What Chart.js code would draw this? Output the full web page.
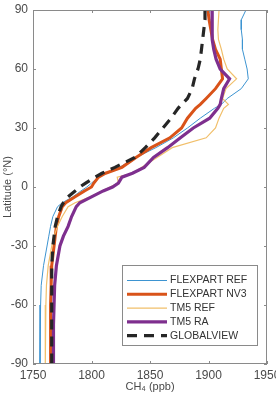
<!DOCTYPE html>
<html>
<head>
<meta charset="utf-8">
<script src="https://cdn.jsdelivr.net/npm/chart.js@4"></script>
<style>
    html, body { margin: 0; padding: 0; background: #fff; }
    #wrap { width: 276px; height: 396px; }
</style>
</head>
<body>
<div id="wrap"><canvas id="profileChart" width="276" height="396"></canvas></div>
<script>
// latitude grid (deg N) shared by all profiles
const latitude = [90, 85, 80, 75, 70, 65, 60, 55, 50, 45, 42, 40, 35, 30, 25, 20, 15, 10, 7, 5, 2, 0,
    -2, -5, -8, -10, -15, -20, -25, -30, -40, -50, -60, -70, -80, -90];

// CH4 (ppb)
const flexpartRef = [1932, 1928, 1928, 1929, 1929, 1931, 1933, 1934, 1928, 1916, 1911, 1905, 1893, 1882, 1870, 1855, 1838, 1824, 1812, 1806, 1800, 1796,
    1791, 1784, 1775, 1771, 1767, 1765, 1763.5, 1762, 1759, 1757, 1756.5, 1756, 1756, 1756];
const flexpartNV3 = [1899.5, 1900.5, 1902, 1903.5, 1906, 1910, 1911, 1912, 1906, 1898, 1893, 1889, 1882, 1877, 1867, 1851, 1838, 1826, 1812, 1806, 1802, 1800,
    1794, 1786, 1778, 1775, 1772, 1770, 1769, 1768, 1766, 1765.5, 1765, 1765, 1765, 1765];
const tm5Ref = [1909, 1908.5, 1908, 1908.5, 1911, 1913, 1916, 1924, 1915, 1912, 1917, 1913, 1909, 1906, 1898, 1869, 1856, 1843, 1835, 1822, 1823, 1816,
    1809, 1799, 1786, 1780, 1775, 1771, 1768, 1766, 1763, 1761.5, 1761, 1760.5, 1760.5, 1760.5];
const tm5RA = [1903, 1903, 1903, 1903.5, 1904.5, 1906.5, 1910, 1918, 1913, 1911, 1910, 1908, 1901, 1887, 1876, 1865, 1853, 1845, 1835, 1826, 1823, 1818,
    1810, 1800, 1790, 1787, 1783, 1780, 1776, 1773, 1770, 1768.5, 1768, 1767.5, 1767.5, 1767.5];
const globalview = [1897, 1897, 1896, 1895, 1894, 1893, 1891, 1888, 1886, 1882, 1877, 1874, 1868, 1861, 1854, 1846, 1837, 1820, 1809, 1803, 1795, 1790,
    1786, 1780, 1776, 1774, 1771, 1769, 1768, 1767, 1766, 1766, 1766, 1766, 1766, 1766];

const seriesLabels = ["FLEXPART REF", "FLEXPART NV3", "TM5 REF", "TM5 RA", "GLOBALVIEW"];
const xTicks = [1750, 1800, 1850, 1900, 1950];
const yTicks = [-90, -60, -30, 0, 30, 60, 90];

const axisGray = "#8a8a8a";
const labelGray = "#4a4a4a";

function profile(values) {
    return values.map((v, i) => ({x: v, y: latitude[i]}));
}

// box around the axes with inward ticks on all four sides (matlab look)
const boxPlugin = {
    id: "box",
    afterDatasetsDraw(chart) {
        const {ctx, chartArea: a, scales} = chart;
        ctx.save();
        ctx.strokeStyle = axisGray;
        ctx.lineWidth = 1;
        ctx.strokeRect(a.left + 0.5, a.top + 0.5, a.right - a.left - 1, a.bottom - a.top - 1);
        ctx.beginPath();
        xTicks.forEach(t => {
            const px = Math.round(scales.x.getPixelForValue(t)) + 0.5;
            ctx.moveTo(px, a.bottom); ctx.lineTo(px, a.bottom - 3);
            ctx.moveTo(px, a.top); ctx.lineTo(px, a.top + 3);
        });
        yTicks.forEach(t => {
            const py = Math.round(scales.y.getPixelForValue(t)) + 0.5;
            ctx.moveTo(a.left, py); ctx.lineTo(a.left + 3, py);
            ctx.moveTo(a.right, py); ctx.lineTo(a.right - 3, py);
        });
        ctx.stroke();
        ctx.restore();
    }
};

// legend box sitting inside the lower right of the axes
const legendPlugin = {
    id: "insideLegend",
    afterDraw(chart) {
        const {ctx, chartArea: a} = chart;
        const x0 = 122, x1 = a.right - 9, y0 = 265, y1 = a.bottom - 18;
        const rowH = 13.8;
        ctx.save();
        ctx.fillStyle = "#fff";
        ctx.fillRect(x0, y0, x1 - x0, y1 - y0);
        ctx.strokeStyle = axisGray;
        ctx.lineWidth = 1;
        ctx.strokeRect(x0 + 0.5, y0 + 0.5, x1 - x0 - 1, y1 - y0 - 1);
        ctx.font = "10.5px 'Liberation Sans', Arial, sans-serif";
        ctx.textBaseline = "middle";
        chart.data.datasets.forEach((ds, i) => {
            const y = y0 + 15.5 + i * rowH;
            ctx.beginPath();
            ctx.strokeStyle = ds.borderColor;
            ctx.lineWidth = ds.borderWidth;
            ctx.setLineDash(ds.borderDash || []);
            ctx.moveTo(127, y);
            ctx.lineTo(167, y);
            ctx.stroke();
            ctx.setLineDash([]);
            ctx.fillStyle = "#333";
            ctx.fillText(ds.label, 170, y);
        });
        ctx.restore();
    }
};

new Chart(document.getElementById("profileChart"), {
    type: "line",
    data: {
        datasets: [
            {label: seriesLabels[0], data: profile(flexpartRef), borderColor: "#3d94d1", borderWidth: 1, order: 5},
            {label: seriesLabels[1], data: profile(flexpartNV3), borderColor: "#d95319", borderWidth: 3, order: 4},
            {label: seriesLabels[2], data: profile(tm5Ref), borderColor: "#f1bf6a", borderWidth: 1.2, order: 3},
            {label: seriesLabels[3], data: profile(tm5RA), borderColor: "#7e2f8e", borderWidth: 3.2, order: 2},
            {label: seriesLabels[4], data: profile(globalview), borderColor: "#262626", borderWidth: 3.2, borderDash: [10, 7], order: 1}
        ]
    },
    options: {
        responsive: false,
        animation: false,
        indexAxis: "y",
        layout: {padding: {top: 10, right: 9, left: 0, bottom: 0}},
        elements: {point: {radius: 0}, line: {tension: 0, fill: false}},
        plugins: {legend: {display: false}, tooltip: {enabled: false}},
        scales: {
            x: {
                type: "linear",
                min: 1750,
                max: 1950,
                afterBuildTicks: s => { s.ticks = xTicks.map(v => ({value: v})); },
                afterFit: s => { s.height = 32; s.paddingLeft = 0; s.paddingRight = 0; },
                grid: {display: false, drawTicks: false},
                border: {display: false},
                ticks: {color: labelGray, font: {size: 12, family: "'Liberation Sans', Arial, sans-serif"}, padding: 4, maxRotation: 0,
                    callback: v => String(v)},
                title: {display: true, text: "CH\u2084 (ppb)", color: labelGray,
                    font: {size: 11, family: "'Liberation Sans', Arial, sans-serif"}, padding: {top: 0, bottom: 2}}
            },
            y: {
                type: "linear",
                min: -90,
                max: 90,
                afterBuildTicks: s => { s.ticks = yTicks.map(v => ({value: v})); },
                afterFit: s => { s.width = 33; s.paddingTop = 0; s.paddingBottom = 0; },
                grid: {display: false, drawTicks: false},
                border: {display: false},
                ticks: {color: labelGray, font: {size: 12, family: "'Liberation Sans', Arial, sans-serif"}, padding: 5,
                    callback: v => String(v)},
                title: {display: true, text: "Latitude (°N)", color: labelGray,
                    font: {size: 11, family: "'Liberation Sans', Arial, sans-serif"}, padding: {top: 1, bottom: 0}}
            }
        }
    },
    plugins: [boxPlugin, legendPlugin]
});
</script>
</body>
</html>
